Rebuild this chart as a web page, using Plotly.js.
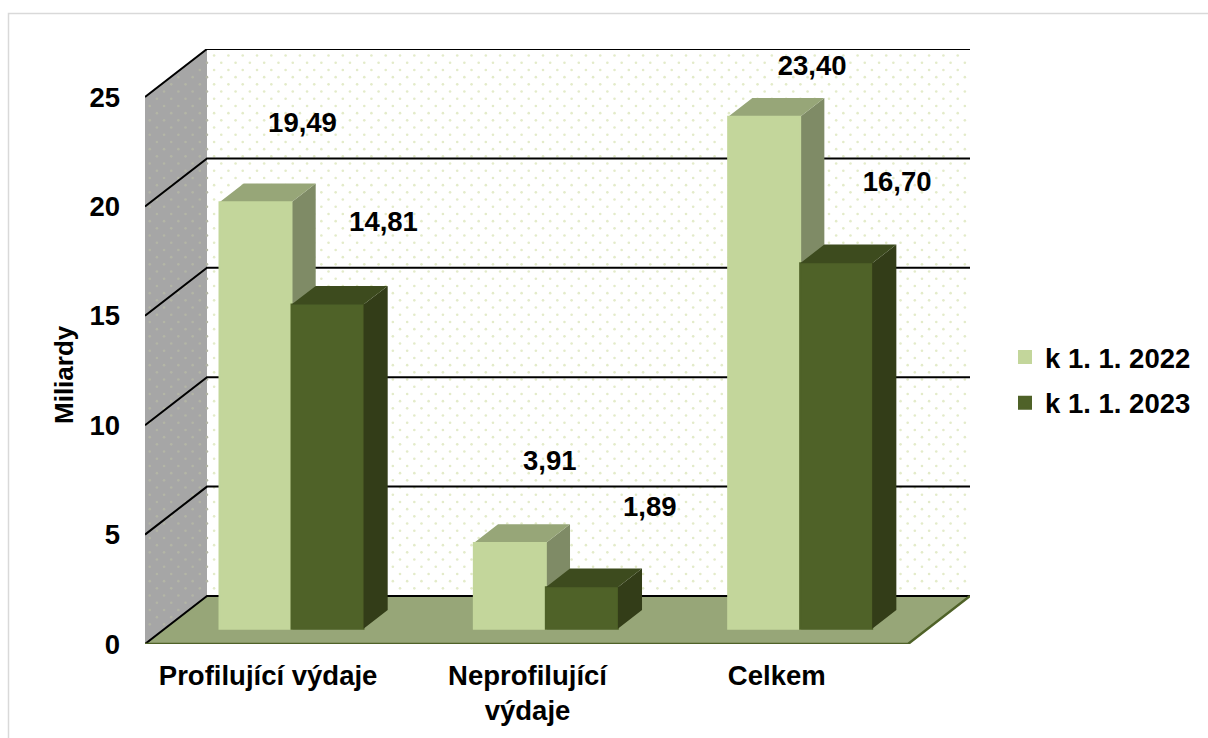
<!DOCTYPE html>
<html><head><meta charset="utf-8">
<script src="https://cdn.plot.ly/plotly-3.0.1.min.js"></script>
<style>html,body{margin:0;padding:0;background:#fff}#c{width:1208px;height:738px}</style>
</head><body><div id="c"></div>
<script>
// ---- data ----
const categories = ['Profilující výdaje', 'Neprofilující<br>výdaje', 'Celkem'];
const series2022 = [19.49, 3.91, 23.40];
const series2023 = [14.81, 1.89, 16.70];
const seriesNames = ['k 1. 1. 2022', 'k 1. 1. 2023'];
const yTicks = [0, 5, 10, 15, 20, 25];

// ---- layout constants ----
const L = 145, R = 908, TF = 97, B = 644, W = 1208, H = 738;
const pxX = (R - L) / 3, pxY = (B - TF) / 25;
const DX = 62 / pxX, DY = 48 / pxY;            // depth of the 3D box
const PR = R + 62, PT = TF - 48;               // full plot rectangle, back wall included
const barD = 0.32, barDepth = 0.39, barW = 72 / pxX;
const catIdx = categories.map((_, i) => i);
const cx = i => i + barD * DX - 0.5 / pxX;
const baseY = barD * DY;
const XMIN = -0.5, XMAX = 2.5, XTOP = XMAX + DX, YTOP = 25 + DY;
const labelDx = [[47, 40, 48], [56, 68, 61]];
const labelDy = [[77, 80, 49], [80, 78, 79]];
const tickShift = [-0.016, 0.004, -0.016];
const C = {wall:'#a6a6a6', floor:'#97a678', edge:'#4f6228', light:'#c3d69b', dark:'#4f6228',
  lightTop:'#97a678', lightSide:'#7f8b66', darkTop:'#3d4b1e', darkSide:'#333d18'};
const FONT = '"Liberation Sans", Arial, sans-serif';
const BOLD = {family:FONT,size:27.5,weight:700,color:'#000'};

function polys(list){ const x=[],y=[]; list.forEach(p=>{p.forEach(q=>{x.push(q[0]);y.push(q[1]);}); x.push(null);y.push(null);}); return {x,y}; }
function fillTrace(list,color,xa,ya){ const p=polys(list);
  return {type:'scatter',mode:'lines',x:p.x,y:p.y,fill:'toself',fillcolor:color,line:{width:0,color:color},
    xaxis:xa,yaxis:ya,showlegend:false,hoverinfo:'skip'}; }
function topFace(i,v,left){ const x0=cx(i)+left*barW,x1=x0+barW,y=baseY+v,dx=barDepth*DX,dy=barDepth*DY;
  return [[x0,y],[x1,y],[x1+dx,y+dy],[x0+dx,y+dy],[x0,y]]; }
function sideFace(i,v,left){ const x1=cx(i)+left*barW+barW,y=baseY+v,dx=barDepth*DX,dy=barDepth*DY;
  return [[x1,y],[x1+dx,y+dy],[x1+dx,baseY+dy],[x1,baseY],[x1,y]]; }

// walls and floor
const sideWall = fillTrace([[[XMIN,0],[XMIN+DX,DY],[XMIN+DX,YTOP],[XMIN,25],[XMIN,0]]],C.wall,'x','y');

// decorative dotted wall texture
const dotX=[],dotY=[],sdotX=[],sdotY=[];
const stepX=14.3/pxX, stepY=7.2/pxY;
for(let r=-12;r<80;r++){
  const yy=DY+0.35+r*stepY;
  for(let k=-6;k<56;k++){
    const xx=XMIN+DX+0.028+(k+(r%2?0.5:0))*stepX;
    if(xx>XMIN+DX+0.005){ if(r>=0 && xx<XTOP && yy<YTOP-0.1){dotX.push(xx);dotY.push(yy);} }
    else if(xx>XMIN+0.005){
      const t=(xx-XMIN)/DX;
      if(yy<25+t*DY-0.2 && yy>t*DY+0.2){sdotX.push(xx);sdotY.push(yy);}
    }
  }
}
const dots={type:'scatter',mode:'markers',x:dotX,y:dotY,marker:{size:2.6,color:'#e3ebc9'},xaxis:'x',yaxis:'y',showlegend:false,hoverinfo:'skip'};
const sdots={type:'scatter',mode:'markers',x:sdotX,y:sdotY,marker:{size:2.6,color:'#b3b5a6'},xaxis:'x',yaxis:'y',showlegend:false,hoverinfo:'skip'};

const floor = fillTrace([[[XMIN,0],[XMAX,0],[XTOP,DY],[XMIN+DX,DY],[XMIN,0]]],C.floor,'x','y');
const gx=[],gy=[];
yTicks.forEach(v=>{ gx.push(XMIN,XMIN+DX,XTOP,null); gy.push(v,v+DY,v+DY,null); });
const grid={type:'scatter',mode:'lines',x:gx,y:gy,line:{color:'#000000',width:2},xaxis:'x',yaxis:'y',showlegend:false,hoverinfo:'skip',cliponaxis:false};
const floorEdge={type:'scatter',mode:'lines',x:[XMIN,XMAX,XTOP],y:[0,0,DY],line:{color:C.edge,width:2.5},xaxis:'x',yaxis:'y',showlegend:false,hoverinfo:'skip',cliponaxis:false};

// 3D faces of the columns
const lightTop=fillTrace(catIdx.map(i=>topFace(i,series2022[i],-1)),C.lightTop,'x','y');
const lightSide=fillTrace(catIdx.map(i=>sideFace(i,series2022[i],-1)),C.lightSide,'x','y');
const darkTop=fillTrace(catIdx.map(i=>topFace(i,series2023[i],0)),C.darkTop,'x3','y3');
const darkSide=fillTrace(catIdx.map(i=>sideFace(i,series2023[i],0)),C.darkSide,'x3','y3');

// front faces
const bar2022={type:'bar',name:seriesNames[0],x:catIdx.map(cx),y:series2022,base:catIdx.map(()=>baseY),width:barW,offset:-barW,
  marker:{color:C.light,line:{color:C.light,width:2}},xaxis:'x2',yaxis:'y2',hoverinfo:'skip',legendgroup:'a'};
const bar2023={type:'bar',name:seriesNames[1],x:catIdx.map(cx),y:series2023,base:catIdx.map(()=>baseY),width:barW,offset:0,
  marker:{color:C.dark,line:{color:C.dark,width:2}},xaxis:'x2',yaxis:'y2',hoverinfo:'skip',legendgroup:'b'};

// value labels
const fmt=v=>v.toFixed(2).replace('.',',');
function labels(vals,s){
  const left=s===0?-0.5:0.5;
  return {type:'scatter',mode:'text',
    x:catIdx.map(i=>cx(i)+left*barW+labelDx[s][i]/pxX),
    y:vals.map((v,i)=>baseY+v+labelDy[s][i]/pxY),
    text:vals.map(fmt),textposition:'middle center',
    textfont:BOLD,xaxis:'x3',yaxis:'y3',showlegend:false,hoverinfo:'skip'};
}

const hiddenX={range:[XMIN,XTOP],overlaying:'x',visible:false,fixedrange:true};
const hiddenY={range:[0,YTOP],overlaying:'y',visible:false,fixedrange:true};
const px=v=>(v-L)/(PR-L), py=v=>(B-v)/(B-PT);
const layout={
  width:W,height:H,paper_bgcolor:'#fff',plot_bgcolor:'#fff',
  margin:{l:L,r:W-PR,t:PT,b:H-B,pad:0},
  barmode:'overlay',
  font:{family:FONT,color:'#000'},
  xaxis:{range:[XMIN,XTOP],tickmode:'array',tickvals:catIdx.map(i=>i+tickShift[i]),ticktext:categories,
    tickfont:BOLD,tickangle:0,ticks:'',showgrid:false,zeroline:false,
    showline:false,ticklabelstandoff:12,fixedrange:true},
  yaxis:{range:[0,YTOP],tickmode:'array',tickvals:yTicks,ticktext:yTicks.map(String),
    tickfont:BOLD,ticks:'',showgrid:false,zeroline:false,showline:false,
    ticklabelstandoff:24,fixedrange:true},
  xaxis2:hiddenX,yaxis2:hiddenY,xaxis3:hiddenX,yaxis3:hiddenY,
  legend:{x:px(1005),xanchor:'left',y:py(380),yanchor:'middle',traceorder:'grouped',tracegroupgap:7,
    font:BOLD,bgcolor:'rgba(0,0,0,0)',itemwidth:30},
  annotations:[{text:'Miliardy',xref:'paper',yref:'paper',x:px(64),y:py(375),xanchor:'center',yanchor:'middle',
    textangle:-90,showarrow:false,font:{family:FONT,size:26,weight:700,color:'#000'}}],
  shapes:[{type:'rect',xref:'paper',yref:'paper',x0:px(8.5),x1:px(1400),y0:py(13.5),y1:py(900),line:{color:'#d9d9d9',width:1.5},layer:'below'}]
};
Plotly.newPlot('c',[sideWall,dots,sdots,floor,grid,floorEdge,lightSide,lightTop,bar2022,bar2023,darkSide,darkTop,labels(series2022,0),labels(series2023,1)],layout,{displayModeBar:false,staticPlot:true});
</script></body></html>
